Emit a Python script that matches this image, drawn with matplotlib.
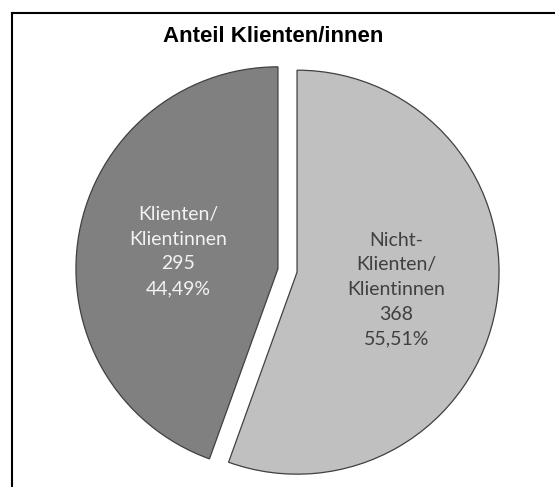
import matplotlib
matplotlib.use("Agg")
import matplotlib.pyplot as plt
from matplotlib.lines import Line2D

title = "Anteil Klienten/innen"
categories = ["Nicht-\nKlienten/\nKlientinnen", "Klienten/\nKlientinnen"]
values = [368, 295]
slice_colors = ["#c0c0c0", "#808080"]
text_colors = ["#404040", "#f2f2f2"]

W, H = 555, 487
fig = plt.figure(figsize=(W / 100, H / 100), dpi=100)
ax = fig.add_axes([0, 0, 1, 1])

total = sum(values)
labels = []
for cat, v in zip(categories, values):
    pct = f"{100 * v / total:.2f}".replace(".", ",")
    labels.append(f"{cat}\n{v}\n{pct}%")

# pixel coordinates, y measured from the bottom; explode is in pixels here
wedges, texts = ax.pie(values, labels=labels, colors=slice_colors,
                       startangle=90, counterclock=False,
                       center=(287.5, H - 270.5), radius=202,
                       explode=[9.7, 9.7], labeldistance=0.5,
                       wedgeprops=dict(edgecolor="#404040", linewidth=0.9))
for t, c in zip(texts, text_colors):
    t.set(ha="center", va="center", multialignment="center",
          color=c, fontsize=14, family="Lato", linespacing=1.55)

ax.set_xlim(0, W)
ax.set_ylim(0, H)
ax.set_aspect("equal")
ax.axis("off")

fig.text(273 / W, 1 - 36 / H, title, ha="center", va="center",
         fontsize=16, fontweight="bold", family="Liberation Sans")

# cropped chart frame (top and left edges)
fig.add_artist(Line2D([12 / W, 1], [1 - 12.5 / H, 1 - 12.5 / H],
                      transform=fig.transFigure, color="black", lw=1.5))
fig.add_artist(Line2D([12 / W, 12 / W], [0, 1 - 12.5 / H],
                      transform=fig.transFigure, color="black", lw=1.5))

fig.savefig("out.png", dpi=100)
